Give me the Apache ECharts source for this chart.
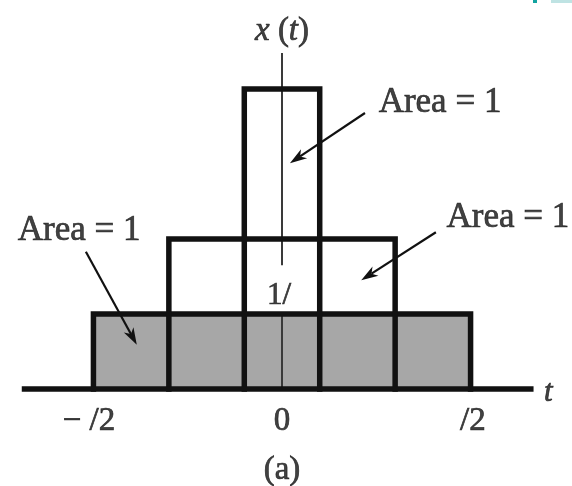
<!DOCTYPE html>
<html>
<head>
<meta charset="utf-8">
<script src="https://cdn.jsdelivr.net/npm/echarts@6/dist/echarts.min.js"></script>
<style>
  html, body { margin: 0; padding: 0; background: #fff; }
  #c { width: 572px; height: 486px; }
</style>
</head>
<body>
<div id="c"></div>
<script>
// Three rectangular pulses centred on t = 0 (t measured in units of the widest pulse)
const pulseHalfWidths = [0.5, 0.3, 0.1];
const pulseHeights = [1, 2, 4];

// horizontal t axis and vertical x(t) axis
const baselineSpan = [-0.69, 0.667];
const axisTop = 4.48;
const axisGap = [1.0, 1.65];

// tick labels along t
const tickValues = [-0.5, 0, 0.5];
const tickLabels = ['\u2212 /2', '0', '/2'];
const tickLabelY = -0.43;
const tickLabelShift = [-0.012, 0, 0.006];

// "Area = 1" callouts: label centre, arrow tail, arrow tip
const areaLabels = ['Area = 1', 'Area = 1', 'Area = 1'];
const areaLabelPos = [[0.419, 3.81], [0.599, 2.28], [-0.538, 2.11]];
const arrowFrom = [[0.220, 3.68], [0.408, 2.09], [-0.520, 1.83]];
const arrowTo = [[0.021, 3.01], [0.210, 1.45], [-0.385, 0.59]];

// other text
const axisTitle = { text: 'x (t)', pos: [0, 4.77] };
const tTitle = { text: 't', pos: [0.706, -0.05] };
const heightLabel = { text: '1/', pos: [-0.008, 1.24] };
const caption = { text: '(a)', pos: [0, -1.08] };

const INK = '#111111';
const SERIF = '"Liberation Serif", "DejaVu Serif", serif';

function pulsePath(i) {
  const w = pulseHalfWidths[i], h = pulseHeights[i];
  return [[-w, 0], [-w, h], [w, h], [w, 0]];
}

const chart = echarts.init(document.getElementById('c'), null, { renderer: 'canvas' });

const series = [];

// shaded widest pulse
series.push({
  type: 'line',
  data: pulsePath(0),
  symbol: 'none',
  lineStyle: { width: 0 },
  areaStyle: { color: '#a7a7a7', opacity: 1, origin: 0 },
  z: 1,
  silent: true
});

// vertical axis line, broken around the 1/ label
series.push({
  type: 'line',
  data: [[0, 0], [0, axisGap[0]], [0, null], [0, axisGap[1]], [0, axisTop]],
  connectNulls: false,
  symbol: 'none',
  lineStyle: { color: '#3a3a3a', width: 2 },
  z: 2,
  silent: true
});

// outlines of all pulses
pulseHalfWidths.forEach(function (_, i) {
  series.push({
    type: 'line',
    data: pulsePath(i),
    symbol: 'none',
    lineStyle: { color: INK, width: 5.5, join: 'miter', cap: 'square' },
    z: 3,
    silent: true
  });
});

// t axis baseline
series.push({
  type: 'line',
  data: [[baselineSpan[0], 0], [baselineSpan[1], 0]],
  symbol: 'none',
  lineStyle: { color: INK, width: 5.5, cap: 'butt' },
  z: 4,
  silent: true
});

// callout arrows
series.push({
  type: 'custom',
  coordinateSystem: 'cartesian2d',
  clip: false,
  z: 5,
  silent: true,
  encode: { x: [0, 2], y: [1, 3] },
  data: arrowFrom.map(function (f, i) { return [f[0], f[1], arrowTo[i][0], arrowTo[i][1]]; }),
  renderItem: function (params, api) {
    const p1 = api.coord([api.value(0), api.value(1)]);
    const p2 = api.coord([api.value(2), api.value(3)]);
    const dx = p2[0] - p1[0], dy = p2[1] - p1[1];
    const len = Math.hypot(dx, dy);
    const ux = dx / len, uy = dy / len;
    const head = 17, half = 5.5;
    const bx = p2[0] - ux * head, by = p2[1] - uy * head;
    const nx = p2[0] - ux * head * 0.72, ny = p2[1] - uy * head * 0.72;
    return {
      type: 'group',
      children: [
        {
          type: 'line',
          shape: { x1: p1[0], y1: p1[1], x2: nx, y2: ny },
          style: { stroke: INK, lineWidth: 2.2 }
        },
        {
          type: 'polygon',
          shape: { points: [p2, [bx - uy * half, by + ux * half], [nx, ny], [bx + uy * half, by - ux * half]] },
          style: { fill: INK }
        }
      ]
    };
  }
});

// text annotations placed in data coordinates
function textItem(t, pos, label) {
  return { name: t, value: pos, label: label };
}
const textData = [];
areaLabels.forEach(function (t, i) {
  textData.push(textItem(t, areaLabelPos[i], { fontSize: 35 }));
});
tickValues.forEach(function (v, i) {
  textData.push(textItem(tickLabels[i], [v + tickLabelShift[i], tickLabelY], { fontSize: 33 }));
});
textData.push(textItem(axisTitle.text, axisTitle.pos, {
  fontSize: 33,
  formatter: '{i|x} ({i|t})',
  rich: { i: { fontStyle: 'italic', fontSize: 33, fontFamily: SERIF, color: INK, textBorderColor: INK, textBorderWidth: 0.7 } }
}));
textData.push(textItem(tTitle.text, tTitle.pos, { fontSize: 31, fontStyle: 'italic' }));
textData.push(textItem(heightLabel.text, heightLabel.pos, { fontSize: 31 }));
textData.push(textItem(caption.text, caption.pos, { fontSize: 33 }));

series.push({
  type: 'scatter',
  data: textData,
  symbolSize: 0,
  clip: false,
  z: 6,
  silent: true,
  label: {
    show: true,
    position: 'inside',
    formatter: '{b}',
    color: INK,
    textBorderColor: INK,
    textBorderWidth: 0.7,
    fontFamily: SERIF,
    fontSize: 33
  }
});

chart.setOption({
  animation: false,
  backgroundColor: '#ffffff',
  grid: { left: 18, right: 26, top: 14, bottom: 22, outerBoundsMode: 'none', containLabel: false },
  xAxis: {
    type: 'value',
    min: -0.7,
    max: 0.7,
    show: false,
    splitLine: { show: false }
  },
  yAxis: {
    type: 'value',
    min: -1,
    max: 5,
    show: false,
    splitLine: { show: false }
  },
  graphic: [
    { type: 'rect', shape: { x: 533, y: 0, width: 4, height: 3 }, style: { fill: '#12a3a0' }, silent: true },
    { type: 'rect', shape: { x: 551, y: 0, width: 21, height: 3 }, style: { fill: '#bfe3e3' }, silent: true }
  ],
  series: series
});
</script>
</body>
</html>
